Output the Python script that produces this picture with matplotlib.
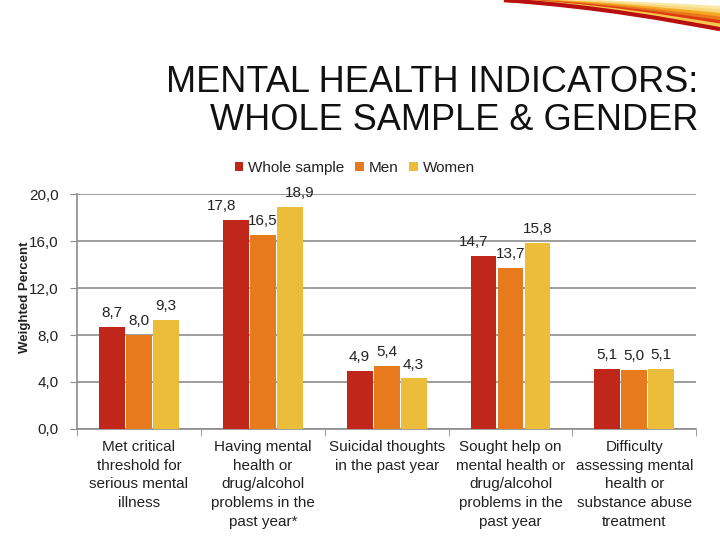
import numpy as np
import matplotlib
matplotlib.use("Agg")
import matplotlib.pyplot as plt
from matplotlib.path import Path
from matplotlib.patches import PathPatch

categories = [
    "Met critical\nthreshold for\nserious mental\nillness",
    "Having mental\nhealth or\ndrug/alcohol\nproblems in the\npast year*",
    "Suicidal thoughts\nin the past year",
    "Sought help on\nmental health or\ndrug/alcohol\nproblems in the\npast year",
    "Difficulty\nassessing mental\nhealth or\nsubstance abuse\ntreatment",
]
series_names = ["Whole sample", "Men", "Women"]
whole = [8.7, 17.8, 4.9, 14.7, 5.1]
men = [8.0, 16.5, 5.4, 13.7, 5.0]
women = [9.3, 18.9, 4.3, 15.8, 5.1]
yticks = [0, 4, 8, 12, 16, 20]

colors = ["#C0261A", "#E87A1E", "#EBBD3A"]
txt = "#222222"
plt.rcParams['font.family'] = ['Liberation Sans', 'DejaVu Sans']

fig = plt.figure(figsize=(7.2, 5.4), dpi=100)
ax = fig.add_axes([0.107, 0.2056, 0.86, 0.435])

x = np.arange(len(categories))
w = 0.218
# label nudges (points) to avoid overlaps, as in the original
nudge = {(0, 1): -10, (2, 1): 7, (0, 3): -7}
for i, (vals, name, c) in enumerate(zip([whole, men, women], series_names, colors)):
    pos = x + (i - 1) * w
    ax.bar(pos, vals, width=w * 0.96, color=c, label=name, zorder=3)
    for j, (px, v) in enumerate(zip(pos, vals)):
        ax.annotate(f"{v:.1f}".replace(".", ","), (px, v), xytext=(nudge.get((i, j), 0), 5),
                    textcoords="offset points", ha="center", va="bottom",
                    fontsize=11, color=txt, annotation_clip=False)

ax.set_xlim(-0.5, len(categories) - 0.5)
ax.set_ylim(0, 20)
ax.set_yticks(yticks)
ax.set_yticklabels([f"{t:.1f}".replace(".", ",") for t in yticks], fontsize=11, color=txt)
ax.yaxis.grid(True, color="#8c8c8c", linewidth=1.2, zorder=0)
ax.set_axisbelow(True)
ax.set_xticks(x)
ax.set_xticklabels(categories, fontsize=11, color=txt, linespacing=1.42, va="top")
ax.tick_params(axis="x", length=0, pad=8)
ax.set_xticks(np.arange(-0.5, len(categories), 1), minor=True)
ax.tick_params(axis="x", which="minor", length=5, color="#8c8c8c")
ax.tick_params(axis="y", length=5, color="#8c8c8c", pad=8)
for s in ["top", "right"]:
    ax.spines[s].set_visible(False)
for s in ["left", "bottom"]:
    ax.spines[s].set_color("#8c8c8c")
    ax.spines[s].set_linewidth(1.2)

fig.text(25 / 720, 1 - 297 / 540, "Weighted Percent", rotation=90, ha="center", va="center",
         fontsize=9.5, fontweight="bold", color=txt)

leg = fig.legend(*ax.get_legend_handles_labels(), loc="center", bbox_to_anchor=(0.493, 0.689),
                 ncol=3, frameon=False, fontsize=11, handlelength=0.55, handleheight=0.55,
                 handletextpad=0.35, columnspacing=0.7, labelcolor=txt)

fig.text(0.97, 0.88, "MENTAL HEALTH INDICATORS:\nWHOLE SAMPLE & GENDER", ha="right", va="top",
         fontsize=26, color="#111111", linespacing=1.12)

# decorative swirl in top-right corner
swirl_cols = ["#FBE7A1", "#F7D77A", "#F5A623", "#E8781C", "#E03A12", "#F2C94C", "#B81010"]
for k, c in enumerate(swirl_cols):
    off = k * 0.0065
    verts = [(0.70, 1.0), (0.84, 0.998 - off * 0.3), (0.93, 0.99 - off * 0.7), (1.0, 0.985 - off)]
    p = Path(verts, [Path.MOVETO, Path.CURVE4, Path.CURVE4, Path.CURVE4])
    fig.add_artist(PathPatch(p, facecolor="none", edgecolor=c, lw=3, transform=fig.transFigure))

fig.savefig("out.png", dpi=100)
